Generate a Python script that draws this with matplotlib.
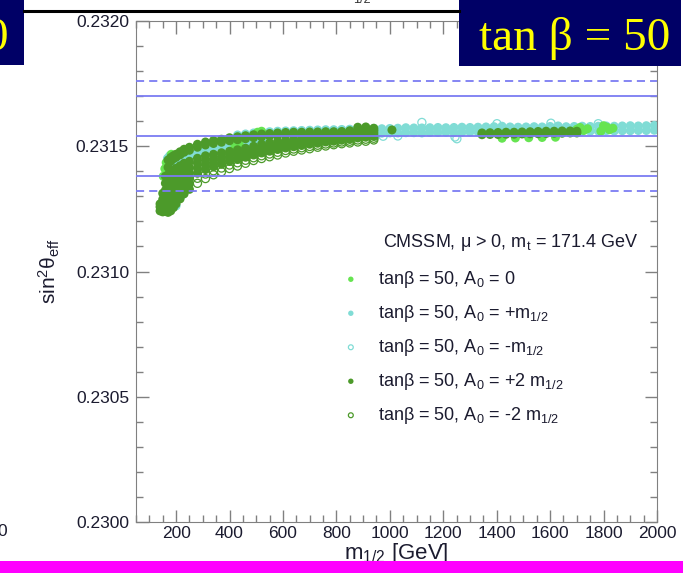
import numpy as np
import matplotlib
matplotlib.use("Agg")
import matplotlib.pyplot as plt
from matplotlib.patches import Rectangle
from matplotlib.lines import Line2D

nan = np.nan

# ---- values: m_1/2 [GeV] and sin^2(theta_eff) ----
m_grid = [140, 150, 160, 170, 180, 190, 200, 215, 230, 250, 280, 310, 340, 370, 400, 430,
          460, 490, 520, 550, 580, 610, 640, 670, 700, 730, 760, 790, 820, 850, 880, 910, 940]

# A0 = +2 m1/2 (filled dark green), rows of the low-mass band
dg_r3 = [0.231270, 0.231288, 0.231296, 0.231296, 0.231302, 0.231311, 0.231326, 0.231342, 0.231358,
         0.231372, 0.231392, 0.231407, 0.231418, 0.231428, 0.231439, 0.231447, 0.231456, 0.231465,
         0.231473, 0.231480, 0.231487, 0.231493, 0.231498, 0.231503, 0.231508, 0.231512, 0.231517,
         0.231520, 0.231524, 0.231527, 0.231533, 0.231536, 0.231539]
dg_r4 = [nan, 0.231312, 0.231324, 0.231326, 0.231332, 0.231339, 0.231354, 0.231368, 0.231382,
         0.231394, 0.231412, 0.231425, 0.231434, 0.231443, 0.231453, 0.231460, 0.231468, 0.231476,
         0.231484, 0.231491, 0.231498, 0.231503, 0.231507, 0.231512, 0.231517, 0.231520, 0.231525,
         0.231527, 0.231531, 0.231534, 0.231541, 0.231544, 0.231546]
dg_r5 = [nan, nan, 0.231352, 0.231356, 0.231362, 0.231367, 0.231382, 0.231394, 0.231406,
         0.231416, 0.231432, 0.231443, 0.231450, 0.231458, 0.231467, 0.231473, 0.231480, 0.231487,
         0.231495, 0.231502, 0.231509, 0.231513, 0.231516, 0.231521, 0.231526, 0.231528, 0.231533,
         0.231534, 0.231538, 0.231541, 0.231549, 0.231552, 0.231553]
dg_r6 = [nan, nan, 0.231380, 0.231386, 0.231395, 0.231405, 0.231412, 0.231422, 0.231432,
         0.231440, 0.231452, 0.231462, 0.231468, 0.231474, 0.231480, 0.231486, 0.231492, 0.231500,
         0.231508, 0.231514, 0.231520, 0.231524, 0.231527, 0.231531, 0.231535, 0.231538, 0.231541,
         0.231543, 0.231546, 0.231549, 0.231557, 0.231560, 0.231560]
dg_r7 = [nan, nan, nan, 0.231416, 0.231440, 0.231450, 0.231456, 0.231466, 0.231476,
         0.231484, 0.231496, 0.231505, 0.231511, 0.231516, 0.231522, 0.231526, 0.231530, 0.231534,
         0.231537, 0.231540, 0.231542, 0.231544, 0.231546, 0.231546, 0.231547, 0.231548, 0.231549,
         0.231550, 0.231552, 0.231556, 0.231566, 0.231568, 0.231566]
dg_r8 = [nan, nan, nan, 0.231445, 0.231455, 0.231462, 0.231468, 0.231478, 0.231488,
         0.231496, 0.231508, 0.231517, 0.231523, 0.231528, 0.231534, 0.231538, 0.231542, 0.231546,
         0.231549, 0.231551, 0.231553, 0.231555, 0.231556, 0.231556, 0.231557, 0.231557, 0.231558,
         0.231558, 0.231559, 0.231562, 0.231576, 0.231577, 0.231572]

dg_wall_m = [140, 150, 160, 170, 180, 190, 200, 215, 230, 250]
dg_wall_lo = [0.231242, 0.231238, 0.231240, 0.231236, 0.231242, 0.231255, 0.231270, 0.231290,
              0.231310, 0.231328]
dg_wall_mid = [0.231258, 0.231265, 0.231268, 0.231266, 0.231272, 0.231283, 0.231298, 0.231316,
               0.231334, 0.231350]

dg_blk_m = [1345, 1375, 1405, 1435, 1465, 1495, 1525, 1555, 1585, 1615, 1645, 1675, 1700]
dg_blk_lo = [0.231546, 0.231547, 0.231547, 0.231548, 0.231548, 0.231549, 0.231550, 0.231550,
             0.231551, 0.231552, 0.231552, 0.231553, 0.231553]
dg_blk_hi = [0.231553, 0.231554, 0.231555, 0.231556, 0.231556, 0.231557, 0.231558, 0.231559,
             0.231560, 0.231560, 0.231561, 0.231561, 0.231560]
dg_single_m = [1008]
dg_single_y = [0.231565]

# A0 = -2 m1/2 (open dark green), lower edge of the band
dgo_m = [280, 310, 340, 370, 400, 430, 460, 490, 520, 550, 580, 610, 640, 670, 700, 730, 760,
         790, 820, 850, 880, 910, 940]
dgo_lo = [0.231352, 0.231371, 0.231386, 0.231398, 0.231411, 0.231421, 0.231432, 0.231443,
          0.231451, 0.231458, 0.231465, 0.231473, 0.231480, 0.231485, 0.231490, 0.231496,
          0.231501, 0.231506, 0.231510, 0.231513, 0.231517, 0.231520, 0.231525]
dgo_mid = [0.231372, 0.231389, 0.231402, 0.231413, 0.231425, 0.231434, 0.231444, 0.231454,
           0.231462, 0.231469, 0.231476, 0.231483, 0.231489, 0.231494, 0.231499, 0.231504,
           0.231509, 0.231513, 0.231517, 0.231520, 0.231525, 0.231528, 0.231532]

# A0 = +m1/2 (filled turquoise)
tq_mid_m = [185, 190, 200, 215, 230, 250, 280, 310, 340, 370, 400, 430, 460, 490, 520]
tq_mid_y = [0.231425, 0.231428, 0.231434, 0.231444, 0.231454, 0.231462, 0.231474, 0.231484,
            0.231490, 0.231495, 0.231501, 0.231506, 0.231511, 0.231517, 0.231523]
tq_top_m = [430, 460, 490, 520, 550, 580, 610, 640, 670, 700, 730, 760, 790, 820, 850, 880,
            910, 940]
tq_top_y = [0.231545, 0.231549, 0.231553, 0.231556, 0.231558, 0.231560, 0.231561, 0.231562,
            0.231563, 0.231564, 0.231565, 0.231566, 0.231566, 0.231567, 0.231568, 0.231570,
            0.231571, 0.231571]
tq_hi_m = [970, 1000, 1030, 1060, 1090, 1120, 1150, 1180, 1210, 1240, 1270, 1300, 1330, 1360,
           1390, 1420, 1450, 1480, 1510, 1540, 1570, 1600, 1630, 1660, 1690, 1720, 1750, 1780,
           1810, 1840, 1870, 1900, 1930, 1960, 1990]
tq_hi_lo = [0.231552, 0.231553, 0.231553, 0.231554, 0.231554, 0.231553, 0.231555, 0.231555,
            0.231556, 0.231555, 0.231556, 0.231557, 0.231557, 0.231556, 0.231557, 0.231558,
            0.231557, 0.231558, 0.231558, 0.231559, 0.231558, 0.231559, 0.231560, 0.231559,
            0.231560, 0.231561, 0.231560, 0.231561, 0.231562, 0.231561, 0.231562, 0.231562,
            0.231563, 0.231563, 0.231564]
tq_hi_up = [0.231570, 0.231571, 0.231572, 0.231574, 0.231573, 0.231573, 0.231574, 0.231575,
            0.231574, 0.231575, 0.231576, 0.231575, 0.231576, 0.231577, 0.231578, 0.231580,
            0.231577, 0.231576, 0.231577, 0.231578, 0.231577, 0.231579, 0.231581, 0.231578,
            0.231579, 0.231580, 0.231579, 0.231580, 0.231581, 0.231580, 0.231581, 0.231582,
            0.231581, 0.231582, 0.231583]
tq_extra_m = [168, 176, 200, 222]
tq_extra_y = [0.231452, 0.231462, 0.231262, 0.231305]

# A0 = -m1/2 (open turquoise)
tqo_m = [480, 560, 700, 850, 944, 975, 1030, 1120, 1244, 1251, 1401, 1603, 1780]
tqo_y = [0.231505, 0.231520, 0.231540, 0.231550, 0.231541, 0.231540, 0.231541, 0.231595,
         0.231537, 0.231530, 0.231590, 0.231592, 0.231590]

# A0 = 0 (filled light green)
lg_m = [152, 158, 163, 182, 420, 436, 505, 520, 1420, 1470, 1520, 1570, 1620, 1700, 1712,
        1726, 1740, 1790, 1800, 1812, 1822, 1835]
lg_y = [0.231380, 0.231410, 0.231435, 0.231468, 0.231503, 0.231508, 0.231556, 0.231560,
        0.231532, 0.231533, 0.231534, 0.231535, 0.231536, 0.231568, 0.231575, 0.231563,
        0.231570, 0.231560, 0.231582, 0.231576, 0.231566, 0.231572]

# measured value bands
sw_center = 0.23154
sw_1sigma = [0.23138, 0.23170]
sw_2sigma = [0.23132, 0.23176]

labels = ['tanβ = 50, A$_0$ = 0',
          'tanβ = 50, A$_0$ = +m$_{1/2}$',
          'tanβ = 50, A$_0$ = -m$_{1/2}$',
          'tanβ = 50, A$_0$ = +2 m$_{1/2}$',
          'tanβ = 50, A$_0$ = -2 m$_{1/2}$']

c_light = '#66e451'
c_turq = '#80dcd5'
c_dark = '#4c9a2a'
c_line = '#7b7cf2'


def rows(xs, ys_list):
    x = np.concatenate([np.asarray(xs, dtype=float)] * len(ys_list))
    y = np.concatenate([np.asarray(v, dtype=float) for v in ys_list])
    return x, y


def join(*pairs):
    return (np.concatenate([p[0] for p in pairs]), np.concatenate([p[1] for p in pairs]))


plt.rcParams['font.family'] = ['Liberation Sans', 'DejaVu Sans']
plt.rcParams['mathtext.fontset'] = 'custom'
plt.rcParams['mathtext.rm'] = 'Liberation Sans'
plt.rcParams['mathtext.it'] = 'Liberation Sans'
plt.rcParams['mathtext.bf'] = 'Liberation Sans:bold'

W, H = 683, 573
fig = plt.figure(figsize=(W / 100, H / 100), dpi=100)
ax = fig.add_axes([136 / W, 1 - 522 / H, (657 - 136) / W, (522 - 21) / H])

dg = join(rows(m_grid, [dg_r3, dg_r4, dg_r5, dg_r6, dg_r7, dg_r8]),
          rows(dg_wall_m, [dg_wall_lo, dg_wall_mid]),
          rows(dg_blk_m, [dg_blk_lo, dg_blk_hi]),
          rows(dg_single_m, [dg_single_y]))
dgo = rows(dgo_m, [dgo_lo, dgo_mid])
tq = join(rows(tq_mid_m, [tq_mid_y]), rows(tq_top_m, [tq_top_y]),
          rows(tq_hi_m, [tq_hi_lo, tq_hi_up]), rows(tq_extra_m, [tq_extra_y]))

ms = 42
mo = 34
h_tq = ax.scatter(tq[0], tq[1], s=ms, color=c_turq, edgecolors='none', zorder=2)
h_tqo = ax.scatter(tqo_m, tqo_y, s=mo, facecolors='none', edgecolors=c_turq, linewidths=0.9, zorder=2)
h_lg = ax.scatter(lg_m, lg_y, s=ms, color=c_light, edgecolors='none', zorder=3)
h_dg = ax.scatter(dg[0], dg[1], s=ms, color=c_dark, edgecolors='none', zorder=3)
h_dgo = ax.scatter(dgo[0], dgo[1], s=mo, facecolors='none', edgecolors=c_dark, linewidths=0.9, zorder=3)

ax.axhline(sw_center, color=c_line, lw=1.3, zorder=5)
for y in sw_1sigma:
    ax.axhline(y, color=c_line, lw=1.3, zorder=5)
for y in sw_2sigma:
    ax.axhline(y, color=c_line, lw=1.3, ls=(0, (4.5, 2.8)), zorder=5)

ax.set_xlim(50, 2000)
ax.set_ylim(0.2300, 0.2320)
ax.set_xticks(range(200, 2001, 200))
ax.set_xticks(range(50, 2001, 50), minor=True)
ax.set_yticks([0.2300, 0.2305, 0.2310, 0.2315, 0.2320])
ax.set_yticks(np.arange(0.2300, 0.23201, 0.0001), minor=True)
ax.yaxis.set_major_formatter(plt.FormatStrFormatter('%.4f'))

ax.tick_params(which='both', direction='in', top=True, right=True, colors='#808080',
               labelcolor='#1b1b2f', labelsize=12.5)
ax.tick_params(which='major', length=9, width=1)
ax.tick_params(which='minor', length=5, width=1)
ax.tick_params(axis='x', pad=3)
ax.tick_params(axis='y', pad=5)
for sp in ax.spines.values():
    sp.set_color('#808080')

ax.set_xlabel('m$_{1/2}$ [GeV]', fontsize=16, color='#1b1b2f', labelpad=0)
ax.set_ylabel('sin$^2$θ$_{\\mathrm{eff}}$', fontsize=15, color='#1b1b2f', labelpad=10)

ax.text(0.474, 0.557, 'CMSSM, μ > 0, m$_t$ = 171.4 GeV', transform=ax.transAxes,
        fontsize=13, va='center', color='#1b1b2f')
ax.legend([h_lg, h_tq, h_tqo, h_dg, h_dgo], labels, loc='upper left',
          bbox_to_anchor=(0.395, 0.505), frameon=False, fontsize=13, handlelength=1.0,
          handletextpad=1.0, labelspacing=0.72, borderpad=0, borderaxespad=0,
          scatterpoints=1, markerscale=0.6, labelcolor='#1b1b2f')

# slide decorations around the plot
fig.add_artist(Rectangle((459 / W, 1 - 66 / H), (681 - 459) / W, 66 / H, transform=fig.transFigure,
                         facecolor='#000066', edgecolor='none', zorder=10))
fig.add_artist(Rectangle((0, 1 - 65 / H), 24 / W, 65 / H, transform=fig.transFigure,
                         facecolor='#000066', edgecolor='none', zorder=10))
fig.add_artist(Rectangle((0, 0), 1, 12 / H, transform=fig.transFigure,
                         facecolor='#ff00ff', edgecolor='none', zorder=10))
fig.add_artist(Line2D([24 / W, 459 / W], [1 - 11 / H, 1 - 11 / H], transform=fig.transFigure,
                      color='black', lw=2.2, zorder=10))
fig.text(575 / W, 1 - 50 / H, 'tan β = 50', color='#ffff00', fontsize=34,
         family=['Liberation Serif', 'DejaVu Serif'], ha='center', va='baseline', zorder=11)
fig.text(8 / W, 1 - 50 / H, '0', color='#ffff00', fontsize=34,
         family=['Liberation Serif', 'DejaVu Serif'], ha='right', va='baseline', zorder=11)
fig.text(362 / W, 1.0, '1/2', color='#333333', fontsize=9, ha='center', va='center')
fig.text(7 / W, 1 - 532 / H, '0', color='#1b1b2f', fontsize=12.5, ha='right', va='center')

fig.savefig('out.png', dpi=100)
